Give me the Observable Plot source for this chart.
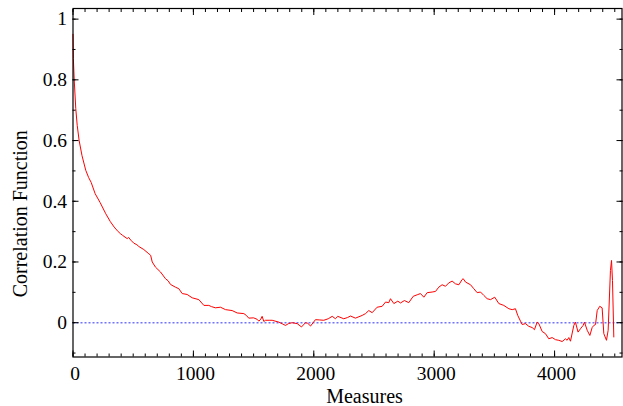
<!DOCTYPE html>
<html><head><meta charset="utf-8">
<script src="https://cdn.jsdelivr.net/npm/d3@7"></script>
<script src="https://cdn.jsdelivr.net/npm/@observablehq/plot@0.6"></script>
<style>body{margin:0;background:#fff} svg{display:block}</style>
</head><body><div id="chart"></div>
<script>
// lag (measures) and correlation values
const lags = [0,3,10,23,35,51,75,106,130,151,184,225,272,310,342,375,395,411,450,462,480,505,530,547,588,630,645,658,685,727,768,790,810,851,879,907,948,990,1045,1087,1128,1150,1183,1225,1267,1322,1364,1419,1440,1460,1500,1530,1544,1560,1571,1585,1599,1635,1654,1709,1740,1765,1790,1820,1862,1898,1931,1950,1973,2014,2050,2083,2120,2153,2180,2199,2249,2280,2305,2346,2402,2430,2457,2485,2526,2568,2596,2623,2637,2665,2698,2720,2753,2789,2826,2859,2886,2914,2942,2983,3011,3038,3066,3094,3121,3149,3177,3205,3232,3241,3260,3302,3329,3357,3385,3412,3440,3468,3503,3537,3578,3620,3648,3675,3694,3717,3731,3758,3786,3814,3833,3855,3869,3897,3924,3952,3980,4008,4035,4063,4091,4104,4118,4132,4160,4173,4195,4215,4237,4248,4271,4293,4312,4326,4340,4354,4375,4395,4409,4431,4445,4464,4473,4481,4492];
const corr = [0.95,0.87,0.80,0.705,0.65,0.60,0.55,0.502,0.478,0.462,0.425,0.396,0.359,0.333,0.315,0.300,0.293,0.288,0.277,0.281,0.272,0.262,0.257,0.251,0.241,0.227,0.222,0.200,0.183,0.167,0.145,0.138,0.126,0.117,0.112,0.096,0.093,0.082,0.076,0.057,0.057,0.053,0.049,0.051,0.043,0.040,0.032,0.030,0.024,0.015,0.016,0.011,0.005,0.012,0.021,0.004,0.008,0.008,0.008,0.002,-0.004,-0.009,-0.003,0.000,-0.003,-0.014,0.000,-0.002,-0.011,0.010,0.009,0.008,0.013,0.021,0.013,0.021,0.013,0.017,0.022,0.015,0.024,0.030,0.040,0.033,0.051,0.054,0.068,0.066,0.079,0.063,0.071,0.065,0.073,0.066,0.087,0.092,0.096,0.084,0.099,0.101,0.103,0.117,0.125,0.120,0.131,0.137,0.128,0.125,0.142,0.145,0.134,0.125,0.112,0.099,0.101,0.090,0.079,0.076,0.084,0.063,0.057,0.046,0.043,0.046,0.024,0.005,-0.006,-0.003,-0.012,-0.016,-0.023,0.002,-0.003,-0.029,-0.036,-0.053,-0.049,-0.056,-0.058,-0.062,-0.053,-0.058,-0.049,-0.061,-0.009,0.002,-0.031,-0.020,-0.009,0.002,-0.025,-0.042,-0.016,-0.009,-0.006,0.040,0.054,0.049,-0.036,-0.058,-0.025,0.172,0.205,0.139,-0.047];

const xMajor = [0, 1000, 2000, 3000, 4000];
const xMinor = [0,100,200,300,400,500,600,700,800,900,1000,1100,1200,1300,1400,1500,1600,1700,1800,1900,2000,2100,2200,2300,2400,2500,2600,2700,2800,2900,3000,3100,3200,3300,3400,3500,3600,3700,3800,3900,4000,4100,4200,4300,4400,4500];
const yMajor = [0, 0.2, 0.4, 0.6, 0.8, 1];
const yMinor = [-0.1, 0, 0.1, 0.2, 0.3, 0.4, 0.5, 0.6, 0.7, 0.8, 0.9, 1];
const xLabel = "Measures";
const yLabel = "Correlation Function";

const data = lags.map((x, i) => ({x, y: corr[i]}));
const blank = () => "";
const serif = "'Liberation Serif', 'Times New Roman', serif";

const chart = Plot.plot({
  width: 623, height: 406,
  marginLeft: 72.5, marginRight: 1.5, marginTop: 8, marginBottom: 49.5,
  style: {fontFamily: serif, fontSize: "19.5px", color: "black", background: "white"},
  x: {domain: [0, 4560]},
  y: {domain: [-0.113, 1.035]},
  marks: [
    Plot.ruleY([0], {stroke: "#7373ff", strokeWidth: 1.5, strokeDasharray: "2,2"}),
    Plot.line(data, {x: "x", y: "y", stroke: "#ff0000", strokeWidth: 1}),
    Plot.axisX(xMinor, {anchor: "bottom", tickSize: -3, tickFormat: blank, label: null}),
    Plot.axisX(xMajor, {anchor: "bottom", tickSize: -6, tickFormat: blank, label: null}),
    Plot.axisX(xMajor, {anchor: "bottom", tickSize: 0, tickPadding: 9, tickFormat: d3.format("d"), label: null, dx: 2, fontFamily: serif, fontSize: 19.5}),
    Plot.axisX(xMinor, {anchor: "top", tickSize: -3, tickFormat: blank, label: null}),
    Plot.axisX(xMajor, {anchor: "top", tickSize: -6, tickFormat: blank, label: null}),
    Plot.axisY(yMinor, {anchor: "left", tickSize: -3, tickFormat: blank, label: null}),
    Plot.axisY(yMajor, {anchor: "left", tickSize: -6, tickFormat: blank, label: null}),
    Plot.axisY(yMajor, {anchor: "left", tickSize: 0, tickPadding: 6, tickFormat: d3.format("~g"), label: null, fontFamily: serif, fontSize: 19.5}),
    Plot.axisY(yMinor, {anchor: "right", tickSize: -3, tickFormat: blank, label: null}),
    Plot.axisY(yMajor, {anchor: "right", tickSize: -6, tickFormat: blank, label: null}),
    Plot.frame({stroke: "black", strokeWidth: 1.2}),
    Plot.text([xLabel], {text: d => d, frameAnchor: "bottom", textAnchor: "middle", lineAnchor: "middle", dx: 17, dy: 40, fontSize: 20, fontFamily: serif}),
    Plot.text([yLabel], {text: d => d, frameAnchor: "left", textAnchor: "middle", lineAnchor: "middle", rotate: -90, dx: -52, dy: 31, fontSize: 20, fontFamily: serif})
  ]
});
document.getElementById("chart").appendChild(chart);
</script>
</body></html>
